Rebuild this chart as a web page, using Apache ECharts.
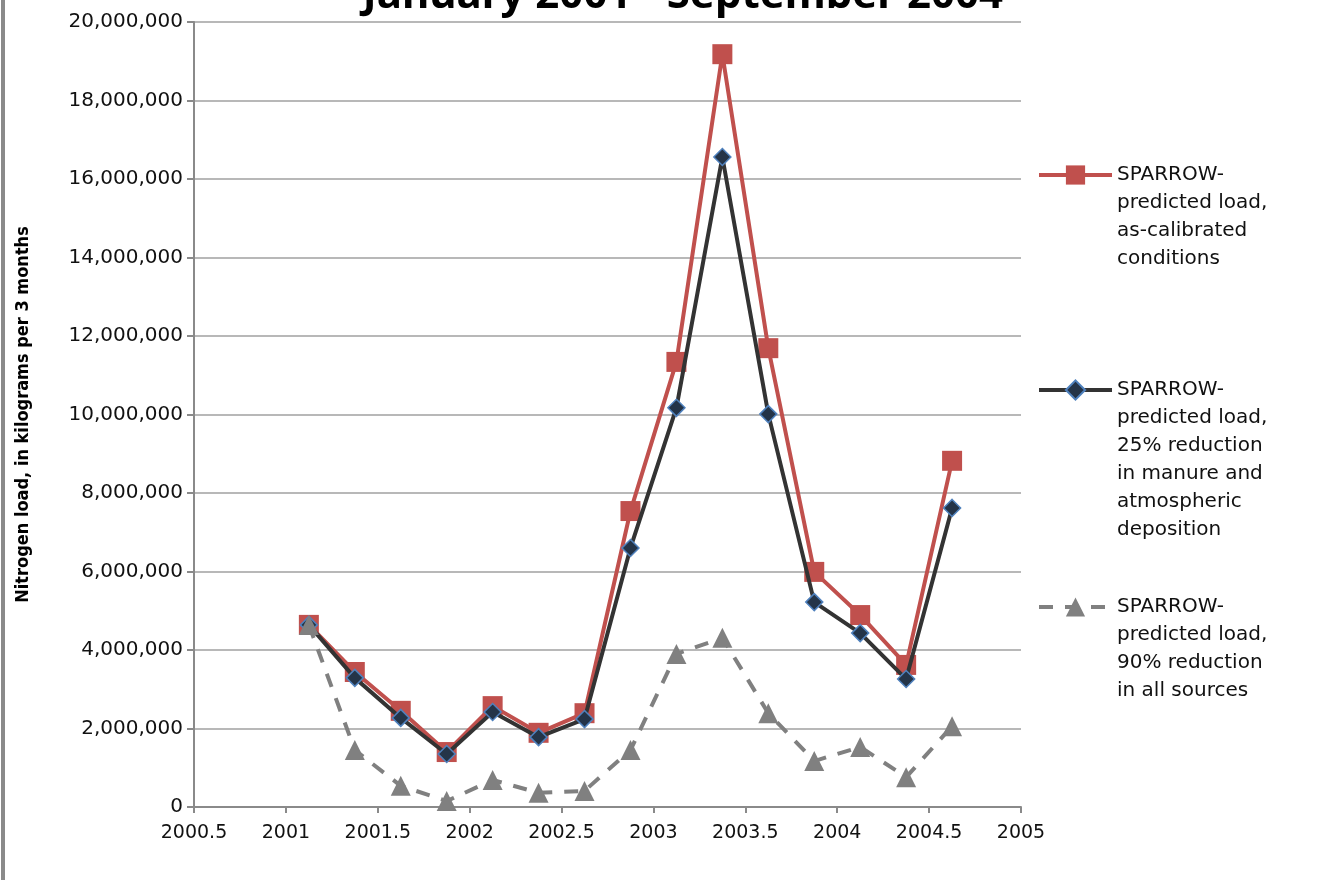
<!DOCTYPE html>
<html>
<head>
<meta charset="utf-8">
<script src="https://cdn.jsdelivr.net/npm/echarts@6/dist/echarts.min.js"></script>
<style>
  html, body { margin: 0; padding: 0; background: #fff; }
  #main { width: 1336px; height: 880px; }
  #frame { position: absolute; left: 1px; top: 0; width: 4px; height: 880px; background: #8a8a8a; }
</style>
</head>
<body>
<div id="main"></div>
<div id="frame"></div>
<script>
// quarter mid-points, Jan 2001 - Sep 2004
var quarters = [2001.125, 2001.375, 2001.625, 2001.875, 2002.125, 2002.375, 2002.625, 2002.875,
  2003.125, 2003.375, 2003.625, 2003.875, 2004.125, 2004.375, 2004.625];
var calibrated = [4640000, 3440000, 2450000, 1400000, 2570000, 1890000, 2390000, 7540000,
  11340000, 19180000, 11690000, 5990000, 4890000, 3620000, 8820000];
var reduction25 = [4640000, 3290000, 2270000, 1350000, 2420000, 1780000, 2240000, 6600000,
  10170000, 16560000, 10010000, 5220000, 4430000, 3260000, 7620000];
var reduction90 = [4640000, 1450000, 540000, 150000, 690000, 360000, 410000, 1450000,
  3900000, 4310000, 2390000, 1170000, 1530000, 760000, 2060000];
var seriesNames = [
  'SPARROW-\npredicted load,\nas-calibrated\nconditions',
  'SPARROW-\npredicted load,\n25% reduction\nin manure and\natmospheric\ndeposition',
  'SPARROW-\npredicted load,\n90% reduction\nin all sources'
];

function pairs(vals) {
  var out = [];
  for (var i = 0; i < quarters.length; i++) out.push([quarters[i], vals[i]]);
  return out;
}

var myChart = echarts.init(document.getElementById('main'));
var lh = 28;
// one legend per series so the icon sits on the first text line
function legendFor(idx, iconY) {
  var n = seriesNames[idx].split('\n').length;
  return {
    data: [seriesNames[idx]],
    orient: 'vertical',
    left: 1037,
    top: iconY - (2 * n - 1) * lh / 2,
    itemWidth: 73,
    itemHeight: 24,
    itemGap: 0,
    padding: 0,
    lineStyle: { width: 4 },
    formatter: function (name) {
      var pre = '';
      for (var i = 1; i < n; i++) pre += '\n';
      return pre + name;
    },
    textStyle: { fontFamily: 'DejaVu Sans', fontSize: 20, color: '#111', lineHeight: lh }
  };
}

var options = {
  animation: false,
  title: {
    text: 'January 2001 - September 2004',
    left: 678,
    textAlign: 'center',
    top: -30,
    textStyle: { fontFamily: 'Noto Sans', fontWeight: 'bold', fontSize: 42, color: '#000' }
  },
  legend: [
    legendFor(0, 175),
    legendFor(1, 390),
    legendFor(2, 607)
  ],
  grid: { left: 194, right: 315, top: 22, bottom: 73 },
  xAxis: {
    type: 'value',
    min: 2000.5,
    max: 2005,
    interval: 0.5,
    axisLine: { lineStyle: { color: '#8a8a8a', width: 2 } },
    axisTick: { show: true, length: 6, lineStyle: { color: '#8a8a8a', width: 2 } },
    splitLine: { show: false },
    axisLabel: {
      fontFamily: 'DejaVu Sans', fontSize: 19, color: '#111', margin: 17,
      formatter: function (v) { return String(v); }
    }
  },
  yAxis: {
    type: 'value',
    min: 0,
    max: 20000000,
    interval: 2000000,
    name: 'Nitrogen load, in kilograms per 3 months',
    nameLocation: 'middle',
    nameGap: 162,
    nameTextStyle: { fontFamily: 'DejaVu Sans Condensed', fontWeight: 'bold', fontSize: 18, color: '#000' },
    axisLine: { show: true, lineStyle: { color: '#8a8a8a', width: 2 } },
    axisTick: { show: true, length: 7, lineStyle: { color: '#8a8a8a', width: 2 } },
    splitLine: { lineStyle: { color: '#a0a0a0', width: 1.5 } },
    axisLabel: {
      fontFamily: 'DejaVu Sans', fontSize: 20, color: '#111', margin: 11,
      formatter: function (v) { return v.toLocaleString('en-US'); }
    }
  },
  series: [
    {
      name: seriesNames[0],
      type: 'line',
      data: pairs(calibrated),
      symbol: 'rect',
      symbolSize: 20,
      lineStyle: { color: '#c0504d', width: 4 },
      itemStyle: { color: '#c0504d' },
      z: 2
    },
    {
      name: seriesNames[1],
      type: 'line',
      data: pairs(reduction25),
      symbol: 'diamond',
      symbolSize: 17,
      lineStyle: { color: '#333333', width: 4 },
      itemStyle: { color: '#243448', borderColor: '#4f81bd', borderWidth: 1.5 },
      z: 3
    },
    {
      name: seriesNames[2],
      type: 'line',
      data: pairs(reduction90),
      symbol: 'triangle',
      symbolSize: 20,
      lineStyle: { color: '#808080', width: 4, type: [14, 12] },
      itemStyle: { color: '#808080' },
      z: 4
    }
  ]
};
myChart.setOption(options);
</script>
</body>
</html>
